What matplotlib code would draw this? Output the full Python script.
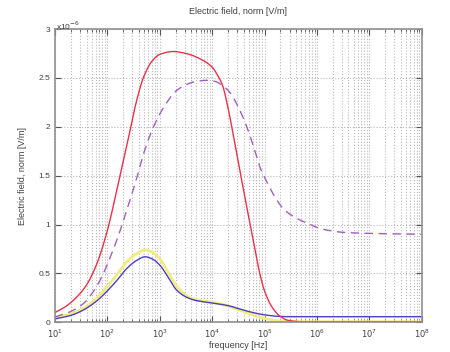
import numpy as np
import matplotlib
matplotlib.use("Agg")
import matplotlib.pyplot as plt
from matplotlib.ticker import LogLocator, NullFormatter

# log10(frequency) sample points and field values (units of 1e-6 V/m)
red_logf = [1.0, 1.2, 1.4, 1.6, 1.8, 2.0, 2.2, 2.4, 2.55, 2.7, 2.85, 3.0, 3.25,
            3.5, 3.75, 4.0, 4.1, 4.2, 4.3, 4.45, 4.6, 4.75, 4.9, 5.0, 5.15, 5.3,
            5.45, 5.7, 6.0, 7.0, 8.0]
red_val = [0.10, 0.16, 0.25, 0.38, 0.60, 0.94, 1.40, 1.88, 2.25, 2.52, 2.67, 2.74,
           2.77, 2.75, 2.70, 2.61, 2.53, 2.42, 2.20, 1.78, 1.35, 0.93, 0.52, 0.32,
           0.15, 0.06, 0.02, 0.006, 0.005, 0.005, 0.005]

mag_logf = [1.0, 1.3, 1.54, 1.7, 1.86, 2.05, 2.27, 2.4, 2.53, 2.7, 2.88, 3.1, 3.32,
            3.5, 3.7, 3.9, 4.05, 4.2, 4.34, 4.5, 4.66, 4.8, 4.91, 5.05, 5.2, 5.36,
            5.5, 5.7, 5.87, 6.05, 6.22, 6.5, 6.95, 7.4, 8.0]
mag_val = [0.055, 0.11, 0.19, 0.29, 0.43, 0.66, 0.98, 1.20, 1.42, 1.74, 2.0, 2.22,
           2.37, 2.43, 2.465, 2.475, 2.465, 2.42, 2.35, 2.20, 2.0, 1.78, 1.59, 1.43,
           1.28, 1.16, 1.10, 1.04, 1.0, 0.96, 0.94, 0.92, 0.91, 0.905, 0.90]

blue_logf = [1.0, 1.3, 1.54, 1.8, 2.05, 2.2, 2.37, 2.55, 2.72, 2.85, 3.0, 3.15,
             3.32, 3.48, 3.64, 3.8, 3.96, 4.15, 4.34, 4.5, 4.7, 4.9, 5.04, 5.2,
             5.4, 5.6, 6.0, 7.0, 8.0]
blue_val = [0.035, 0.07, 0.125, 0.22, 0.35, 0.44, 0.55, 0.63, 0.67, 0.65, 0.585,
            0.47, 0.33, 0.265, 0.23, 0.212, 0.20, 0.185, 0.166, 0.14, 0.11, 0.085,
            0.073, 0.063, 0.058, 0.057, 0.057, 0.057, 0.057]

yel_logf = [1.0, 1.3, 1.54, 1.8, 2.05, 2.2, 2.37, 2.55, 2.72, 2.85, 3.0, 3.15,
            3.32, 3.48, 3.64, 3.8, 3.96, 4.15, 4.34, 4.5, 4.7, 4.9, 5.04, 5.2,
            5.4, 5.6, 6.0, 7.0, 8.0]
yel_val = [0.05, 0.09, 0.14, 0.25, 0.40, 0.50, 0.62, 0.70, 0.74, 0.72, 0.65,
           0.52, 0.37, 0.285, 0.24, 0.22, 0.21, 0.19, 0.16, 0.13, 0.09, 0.055,
           0.035, 0.018, 0.01, 0.007, 0.006, 0.006, 0.006]

xticks = [1e1, 1e2, 1e3, 1e4, 1e5, 1e6, 1e7, 1e8]
xticklabels = ["$10^{%d}$" % k for k in range(1, 9)]
yticks = [0, 0.5, 1, 1.5, 2, 2.5, 3]
yticklabels = ["0", "0.5", "1", "1.5", "2", "2.5", "3"]


def smooth(logf, val):
    # PCHIP interpolation, done by hand (no scipy)
    lf = np.array(logf)
    v = np.array(val)
    xs = np.linspace(lf[0], lf[-1], 800)
    h = np.diff(lf)
    d = np.diff(v) / h
    m = np.zeros_like(v)
    m[0], m[-1] = d[0], d[-1]
    for i in range(1, len(v) - 1):
        if d[i - 1] * d[i] > 0:
            w1 = 2 * h[i] + h[i - 1]
            w2 = h[i] + 2 * h[i - 1]
            m[i] = (w1 + w2) / (w1 / d[i - 1] + w2 / d[i])
    idx = np.clip(np.searchsorted(lf, xs) - 1, 0, len(h) - 1)
    t = (xs - lf[idx]) / h[idx]
    h00 = 2 * t**3 - 3 * t**2 + 1
    h10 = t**3 - 2 * t**2 + t
    h01 = -2 * t**3 + 3 * t**2
    h11 = t**3 - t**2
    ys = h00 * v[idx] + h10 * h[idx] * m[idx] + h01 * v[idx + 1] + h11 * h[idx] * m[idx + 1]
    return 10 ** xs, ys


plt.rcParams['font.family'] = ['Liberation Sans', 'DejaVu Sans']
fig = plt.figure(figsize=(4.5, 3.52), dpi=100)
ax = fig.add_axes([0.1222, 0.0844, 0.815, 0.8332])

gcol = "#b8b8b8"
ax.grid(True, which="major", axis="both", linestyle=":", color=gcol, linewidth=0.8)
ax.grid(True, which="minor", axis="x", linestyle=":", color=gcol, linewidth=0.8)

x, y = smooth(yel_logf, yel_val)
ax.plot(x, y, color="#f2ec80", linewidth=2.0)
x, y = smooth(blue_logf, blue_val)
ax.plot(x, y, color="#4b3fc0", linewidth=1.0)
x, y = smooth(red_logf, red_val)
ax.plot(x, y, color="#e8324a", linewidth=1.0)
x, y = smooth(mag_logf, mag_val)
ax.plot(x, y, color="#a060c0", linewidth=1.0, linestyle=(0, (6, 4)))

ax.set_xscale("log")
ax.set_xlim(1e1, 1e8)
ax.set_ylim(0, 3)
ax.set_xticks(xticks)
ax.set_xticklabels(xticklabels)
ax.xaxis.set_minor_locator(LogLocator(base=10, subs=np.arange(2, 10), numticks=20))
ax.xaxis.set_minor_formatter(NullFormatter())
ax.set_yticks(yticks)
ax.set_yticklabels(yticklabels)

tcol = "#404040"
ax.tick_params(which="both", direction="in", top=True, right=True, colors="#555555",
               labelcolor=tcol, labelsize=6)
ax.tick_params(which="major", length=4)
ax.tick_params(which="minor", length=2)
for s in ax.spines.values():
    s.set_color("#909090")
    s.set_linewidth(1.2)

ax.set_title("Electric field, norm [V/m]", fontsize=6.5, color=tcol, pad=11)
ax.set_xlabel("frequency [Hz]", fontsize=6.5, color=tcol, labelpad=1)
ax.set_ylabel("Electric field, norm [V/m]", fontsize=6.5, color=tcol, labelpad=8)
ax.text(0.003, 0.99, "x10$^{-6}$", transform=ax.transAxes, fontsize=6, color=tcol,
        ha="left", va="bottom")

fig.savefig("out.png", dpi=100)
